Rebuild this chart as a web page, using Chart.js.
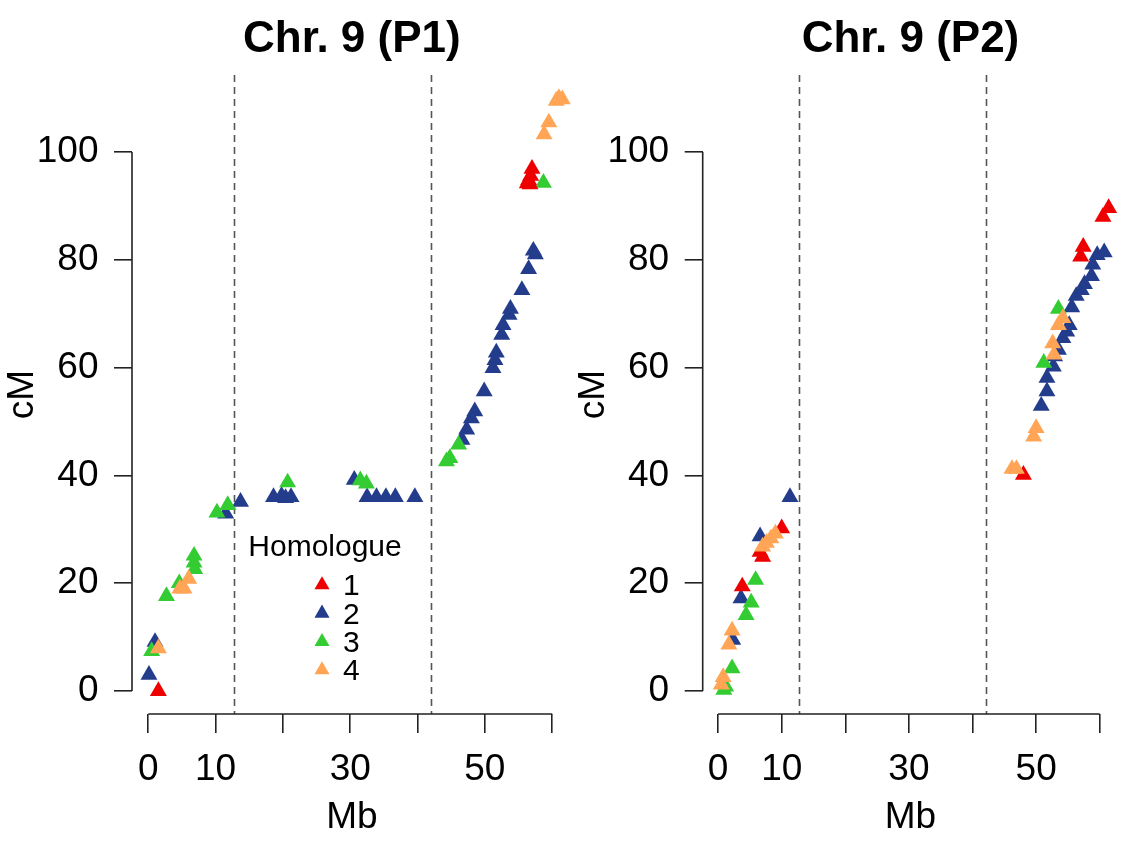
<!DOCTYPE html>
<html>
<head>
<meta charset="utf-8">
<script src="https://cdn.jsdelivr.net/npm/chart.js@4.4.0/dist/chart.umd.min.js"></script>
<style>
  html, body { margin: 0; padding: 0; background: #fff; }
  #wrap { position: relative; width: 1128px; height: 843px; }
  canvas { position: absolute; left: 0; top: 0; }
</style>
</head>
<body>
<div id="wrap">
  <canvas id="chartP1" width="1128" height="843"></canvas>
  <canvas id="chartP2" width="1128" height="843"></canvas>
</div>
<script>
const homologues = ['1', '2', '3', '4'];
const homologueColors = ['#EE0000', '#233D8C', '#33CC33', '#FFA555'];
const drawOrder = [2, 4, 3, 1]; // higher = drawn first (underneath)

// P1 : physical position (Mb) vs genetic position (cM), per homologue
const p1H1Mb = [1.5, 56.3, 56.5, 56.7, 56.8, 57.0];
const p1H1cM = [0.0, 94.2, 94.8, 94.0, 95.6, 96.9];
const p1H2Mb = [0.1, 1.0, 11.5, 13.7, 18.6, 19.8, 20.4, 21.2, 30.6, 32.5, 33.9, 35.3, 36.7, 39.6, 46.6, 47.3, 48.0, 48.5, 49.9, 51.2, 51.5, 51.7, 52.5, 52.7, 53.6, 53.8, 55.5, 56.5, 57.2, 57.5];
const p1H2cM = [3.0, 9.1, 32.9, 35.1, 36.0, 36.2, 35.8, 36.0, 39.2, 36.0, 36.0, 36.0, 36.0, 36.0, 46.6, 48.5, 50.6, 51.9, 55.6, 59.9, 61.4, 62.8, 66.1, 67.9, 69.8, 70.9, 74.4, 78.3, 81.7, 81.0];
const p1H3Mb = [0.5, 2.7, 4.6, 6.8, 6.8, 6.9, 10.2, 11.8, 20.7, 31.5, 32.4, 44.3, 44.8, 46.1, 58.7];
const p1H3cM = [7.4, 17.6, 20.0, 25.1, 23.8, 22.6, 33.1, 34.5, 38.7, 39.1, 38.5, 42.6, 43.2, 45.7, 94.3];
const p1H4Mb = [1.5, 4.7, 5.3, 6.0, 58.8, 59.5, 60.6, 61.0, 61.5];
const p1H4cM = [7.9, 19.0, 19.0, 20.8, 103.3, 105.5, 109.5, 110.0, 109.8];

// P2
const p2H1Mb = [3.8, 6.6, 7.0, 10.0, 48.0, 57.0, 57.4, 60.5, 61.4];
const p2H1cM = [19.4, 25.8, 24.9, 30.2, 40.1, 80.6, 82.4, 88.0, 89.6];
const p2H2Mb = [2.3, 3.6, 6.6, 11.3, 50.8, 51.7, 51.7, 52.7, 52.9, 53.5, 54.2, 54.8, 55.2, 55.6, 56.3, 57.1, 57.6, 58.7, 58.9, 59.6, 60.7];
const p2H2cM = [9.5, 17.2, 28.7, 36.0, 52.9, 55.6, 58.1, 60.2, 62.1, 63.3, 65.5, 66.7, 67.9, 71.2, 73.3, 74.4, 75.5, 77.0, 79.1, 80.9, 81.4];
const p2H3Mb = [0.9, 1.2, 2.2, 4.4, 5.2, 5.9, 51.2, 53.5];
const p2H3cM = [0.2, 0.8, 4.2, 14.1, 16.4, 20.6, 60.9, 70.9];
const p2H4Mb = [0.5, 0.8, 1.7, 2.2, 7.0, 7.6, 8.3, 9.0, 46.2, 46.9, 49.6, 50.0, 52.6, 52.8, 53.5, 54.2];
const p2H4cM = [1.2, 2.6, 8.6, 11.2, 26.8, 27.5, 28.3, 29.2, 41.2, 41.2, 47.2, 48.8, 64.5, 62.4, 67.9, 69.2];

const xTicks = [0, 10, 20, 30, 40, 50, 60];
const xTickLabels = ['0', '10', '', '30', '', '50', ''];
const yTicks = [0, 20, 40, 60, 80, 100];
const centromereMb = [12.7, 42.05];

Chart.defaults.font.family = '"Liberation Sans", Arial, sans-serif';
Chart.defaults.color = '#000';

function pts(xs, ys) {
  return xs.map((x, i) => ({x: x, y: ys[i]}));
}

function triangle(ctx, x, y, r, color) {
  ctx.fillStyle = color;
  ctx.beginPath();
  ctx.moveTo(x, y - r);
  ctx.lineTo(x + r * Math.sqrt(3) / 2, y + r / 2);
  ctx.lineTo(x - r * Math.sqrt(3) / 2, y + r / 2);
  ctx.closePath();
  ctx.fill();
}

// R-style axis lines (only between first and last tick) + dashed centromere lines
const rAxes = {
  id: 'rAxes',
  beforeDatasetsDraw(chart) {
    const {ctx, chartArea: a, scales: {x, y}} = chart;
    ctx.save();
    ctx.strokeStyle = '#555';
    ctx.lineWidth = 1.6;
    ctx.setLineDash([7, 5]);
    centromereMb.forEach(v => {
      const px = Math.round(x.getPixelForValue(v)) + 0.5;
      ctx.beginPath();
      ctx.moveTo(px, a.top);
      ctx.lineTo(px, a.bottom);
      ctx.stroke();
    });
    ctx.setLineDash([]);
    ctx.strokeStyle = '#222';
    ctx.beginPath();
    ctx.moveTo(x.getPixelForValue(xTicks[0]), a.bottom);
    ctx.lineTo(x.getPixelForValue(xTicks[xTicks.length - 1]), a.bottom);
    ctx.moveTo(a.left, y.getPixelForValue(yTicks[0]));
    ctx.lineTo(a.left, y.getPixelForValue(yTicks[yTicks.length - 1]));
    ctx.stroke();
    ctx.restore();
  }
};

const homologueLegend = {
  id: 'homologueLegend',
  afterDatasetsDraw(chart) {
    const {ctx, chartArea: a} = chart;
    const cx = a.left + 193;
    ctx.save();
    ctx.font = '30px "Liberation Sans", Arial, sans-serif';
    ctx.fillStyle = '#000';
    ctx.textAlign = 'center';
    ctx.textBaseline = 'middle';
    ctx.fillText('Homologue', cx, a.top + 473);
    ctx.textAlign = 'left';
    homologues.forEach((h, i) => {
      const yy = a.top + 510 + i * 28.3;
      triangle(ctx, cx - 3, yy, 8.7, homologueColors[i]);
      ctx.fillStyle = '#000';
      ctx.fillText(h, cx + 18, yy + 2);
    });
    ctx.restore();
  }
};

function makePanel(id, title, series, pad, extra) {
  const datasets = series.map((s, i) => ({
    label: homologues[i],
    data: pts(s[0], s[1]),
    backgroundColor: homologueColors[i],
    borderWidth: 0,
    pointStyle: 'triangle',
    pointRadius: 9.8,
    order: drawOrder[i]
  }));
  return new Chart(document.getElementById(id), {
    type: 'scatter',
    data: {datasets: datasets},
    options: {
      responsive: false,
      animation: false,
      devicePixelRatio: 1,
      events: [],
      layout: {padding: pad},
      plugins: {
        legend: {display: false},
        tooltip: {enabled: false},
        title: {
          display: true,
          text: title,
          fullSize: false,
          color: '#000',
          font: {size: 44, weight: 'bold'},
          padding: {top: 13.6, bottom: 8.6}
        }
      },
      scales: {
        x: {
          type: 'linear',
          min: -2.42,
          max: 62.9,
          afterBuildTicks: s => { s.ticks = xTicks.map(v => ({value: v})); },
          afterFit: s => { s.height = 129; },
          border: {display: false},
          grid: {drawOnChartArea: false, drawTicks: true, tickLength: 19, color: '#222', lineWidth: 1.6},
          ticks: {autoSkip: false, maxRotation: 0, padding: 15, color: '#000', font: {size: 37},
                  callback: (v, i) => xTickLabels[i]},
          title: {display: true, text: 'Mb', color: '#000', font: {size: 37}, padding: {top: 0, bottom: 3}}
        },
        y: {
          type: 'linear',
          min: -4.27,
          max: 114.3,
          afterBuildTicks: s => { s.ticks = yTicks.map(v => ({value: v})); },
          afterFit: s => { s.width = 132; },
          border: {display: false},
          grid: {drawOnChartArea: false, drawTicks: true, tickLength: 18, color: '#222', lineWidth: 1.6},
          ticks: {padding: 15.5, color: '#000', font: {size: 37}},
          title: {display: true, text: 'cM', color: '#000', font: {size: 37}, padding: {top: 1, bottom: 0}}
        }
      }
    },
    plugins: [rAxes].concat(extra)
  });
}

makePanel('chartP1', 'Chr. 9 (P1)',
  [[p1H1Mb, p1H1cM], [p1H2Mb, p1H2cM], [p1H3Mb, p1H3cM], [p1H4Mb, p1H4cM]],
  {left: 0, right: 556.3, top: 0, bottom: 0}, [homologueLegend]);

makePanel('chartP2', 'Chr. 9 (P2)',
  [[p2H1Mb, p2H1cM], [p2H2Mb, p2H2cM], [p2H3Mb, p2H3cM], [p2H4Mb, p2H4cM]],
  {left: 570.7, right: 6, top: 0, bottom: 0}, []);
</script>
</body>
</html>
